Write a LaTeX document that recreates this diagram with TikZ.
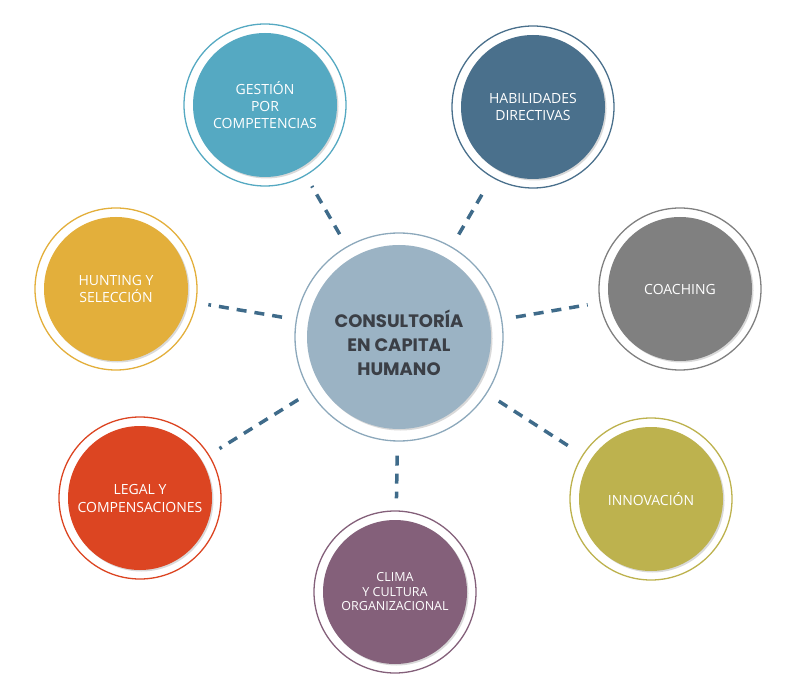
\documentclass[tikz,border=0pt]{standalone}
\usepackage{fontspec}
\setmainfont{Open Sans}
\newfontfamily\hubfont{Poppins}
\definecolor{cHub}{HTML}{9BB3C4}
\definecolor{cHubRing}{HTML}{8CA8BB}
\definecolor{cHubText}{HTML}{3B3F46}
\definecolor{cGest}{HTML}{55A9C2}
\definecolor{cHab}{HTML}{4A708C}
\definecolor{cCoach}{HTML}{808080}
\definecolor{cInno}{HTML}{BDB24E}
\definecolor{cClima}{HTML}{84607A}
\definecolor{cLegal}{HTML}{DC4522}
\definecolor{cHunt}{HTML}{E3AF3B}
\definecolor{cLink}{HTML}{3F6B8A}
\begin{document}
\begin{tikzpicture}[x=1pt, y=-1pt,
	bubble/.style 2 args={circle, draw=#1, line width=1.3pt, fill=white, minimum size=162pt, inner sep=0pt,
		align=center, text=white, font=\fontsize{14}{17}\selectfont,
		path picture={
			\fill[black!15] ([shift={(1.5,1.5)}]path picture bounding box.center) circle (#2);
			\fill[#1] (path picture bounding box.center) circle (#2);}},
	link/.style={draw=cLink, line width=3.5pt, dash pattern=on 10pt off 8pt, shorten <=14pt, shorten >=12pt}]
	\useasboundingbox (0,0) rectangle (800,700);
	\node[bubble={cHubRing}{93pt}, minimum size=208pt, text=cHubText,
		font=\hubfont\bfseries\fontsize{18}{24}\selectfont,
		path picture={
			\fill[black!15] ([shift={(1.5,1.5)}]path picture bounding box.center) circle (92pt);
			\fill[cHub] (path picture bounding box.center) circle (92pt);}] (hub) at (399,337)
		{\rule{0pt}{30pt}CONSULTORÍA\\EN CAPITAL\\HUMANO};
	\node[bubble={cGest}{72pt}]  (gest)  at (265,105) {GESTIÓN\\POR\\COMPETENCIAS};
	\node[bubble={cHab}{72pt}]   (hab)   at (533,107) {HABILIDADES\\DIRECTIVAS};
	\node[bubble={cCoach}{72pt}] (coach) at (680,289) {COACHING};
	\node[bubble={cInno}{72pt}]  (inno)  at (651,499) {INNOVACIÓN};
	\node[bubble={cClima}{72pt}, font=\fontsize{12.5}{14.5}\selectfont] (clima) at (395,592) {CLIMA\\Y CULTURA\\ORGANIZACIONAL};
	\node[bubble={cLegal}{72pt}, font=\fontsize{14}{18}\selectfont] (legal) at (140,498) {LEGAL Y\\COMPENSACIONES};
	\node[bubble={cHunt}{72pt}]  (hunt)  at (116,289) {HUNTING Y\\SELECCIÓN};
	% Verbindungen
	\foreach \n in {gest,hab,coach,inno,clima,legal,hunt}
		\draw[link] (hub) -- (\n);
\end{tikzpicture}
\end{document}
